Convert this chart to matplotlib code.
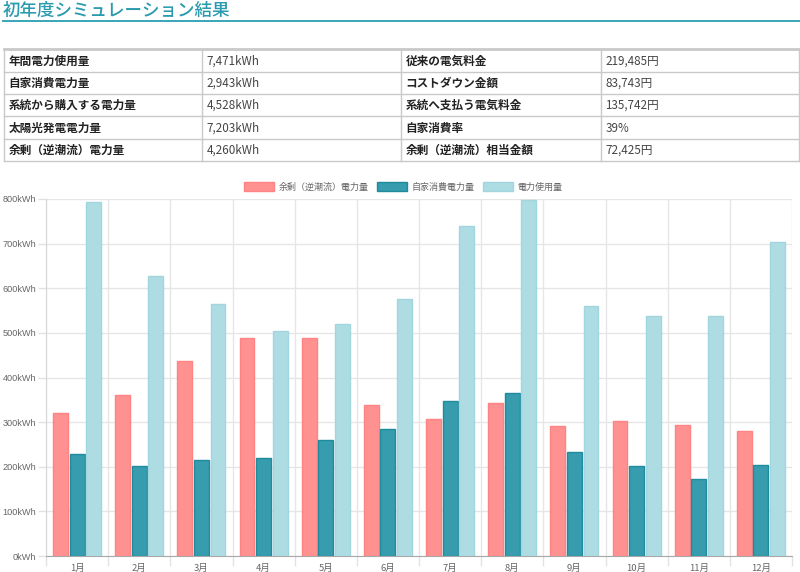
import matplotlib
matplotlib.use("Agg")
import matplotlib.pyplot as plt
from matplotlib.patches import Patch
import numpy as np

plt.rcParams['font.family'] = ['Noto Sans CJK JP', 'DejaVu Sans']

# ---- data ----
title = "初年度シミュレーション結果"
table_left_labels = ["年間電力使用量", "自家消費電力量", "系統から購入する電力量", "太陽光発電電力量", "余剰（逆潮流）電力量"]
table_left_values = ["7,471kWh", "2,943kWh", "4,528kWh", "7,203kWh", "4,260kWh"]
table_right_labels = ["従来の電気料金", "コストダウン金額", "系統へ支払う電気料金", "自家消費率", "余剰（逆潮流）相当金額"]
table_right_values = ["219,485円", "83,743円", "135,742円", "39%", "72,425円"]

months = ["1月", "2月", "3月", "4月", "5月", "6月", "7月", "8月", "9月", "10月", "11月", "12月"]
series_names = ["余剰（逆潮流）電力量", "自家消費電力量", "電力使用量"]
surplus = [320, 360, 437, 488, 489, 338, 307, 342, 292, 303, 294, 280]
self_consumption = [228, 201, 215, 220, 261, 284, 347, 365, 233, 202, 172, 205]
usage = [793, 628, 564, 505, 519, 575, 740, 798, 560, 538, 537, 703]
y_ticks = [0, 100, 200, 300, 400, 500, 600, 700, 800]

fill_colors = ["#FF9191", "#369CAE", "#AEDCE3"]
edge_colors = ["#FF8383", "#1E8C9E", "#A2D6DE"]

W, H = 800, 572
fig = plt.figure(figsize=(W / 100, H / 100), dpi=100)

def fx(x):
    return x / W

def fy(y):
    return 1 - y / H

# ---- title ----
fig.text(fx(3), fy(11), title, fontsize=12.6, fontweight="medium", color="#2A9AAE", va="center", ha="left")
fig.add_artist(plt.Line2D([fx(3), fx(800)], [fy(20.5), fy(20.5)], color="#38A7B7", lw=1.4))

# ---- table ----
row_edges = [49, 72, 94, 116, 139, 161]
col_edges = [4, 202, 401, 601, 799]
grid_c = "#C9C9C9"
for i, y in enumerate(row_edges):
    fig.add_artist(plt.Line2D([fx(col_edges[0]), fx(col_edges[-1])], [fy(y), fy(y)],
                              color=grid_c, lw=2.0 if i == 0 else 1.0))
for x in col_edges:
    fig.add_artist(plt.Line2D([fx(x), fx(x)], [fy(row_edges[0]), fy(row_edges[-1])], color=grid_c, lw=1.0))

cols = [table_left_labels, table_left_values, table_right_labels, table_right_values]
for c, texts in enumerate(cols):
    for r, t in enumerate(texts):
        yc = (row_edges[r] + row_edges[r + 1]) / 2 + 0.5
        fig.text(fx(col_edges[c] + 4.5), fy(yc), t, fontsize=8.4,
                 fontweight="bold" if c % 2 == 0 else "normal",
                 color="#222222" if c % 2 == 0 else "#444444", va="center", ha="left")

# ---- chart ----
ax_l, ax_r, ax_t, ax_b = 46, 792, 199, 556
ax = fig.add_axes([fx(ax_l), fy(ax_b), (ax_r - ax_l) / W, (ax_b - ax_t) / H])
x = np.arange(len(months))
slot = 0.8 / 3
bw = slot * 0.9
for k, vals in enumerate([surplus, self_consumption, usage]):
    ax.bar(x + (k - 1) * slot, vals, width=bw, color=fill_colors[k], edgecolor=edge_colors[k],
           linewidth=1.0, label=series_names[k], zorder=3)

ax.set_xlim(-0.5, len(months) - 0.5)
ax.set_ylim(0, 800)
ax.set_yticks(y_ticks)
ax.set_yticklabels([f"{v}kWh" for v in y_ticks], family=["Liberation Sans", "Noto Sans CJK JP"])
ax.set_xticks(x)
ax.set_xticklabels(months)
ax.set_xticks(np.arange(-0.5, len(months)), minor=True)
ax.tick_params(axis="x", which="major", length=0, pad=6, labelsize=6.8, labelcolor="#666666")
ax.tick_params(axis="x", which="minor", length=7, color="#E2E2E2", width=1)
ax.tick_params(axis="y", length=6, color="#E2E2E2", width=1, pad=1, labelsize=6.6, labelcolor="#666666")
ax.grid(True, axis="y", color="#E6E6E6", lw=1, zorder=0)
ax.grid(True, axis="x", which="minor", color="#E6E6E6", lw=1, zorder=0)
for s in ["top", "right"]:
    ax.spines[s].set_visible(False)
ax.spines["left"].set_color("#D6D6D6")
ax.spines["bottom"].set_color("#A8A8A8")

handles = [Patch(facecolor=fill_colors[k], edgecolor=edge_colors[k], linewidth=1.0) for k in range(3)]
fig.legend(handles, series_names, loc="center", bbox_to_anchor=(fx(403), fy(187)), ncol=3,
           frameon=False, fontsize=6.5, handlelength=3.4, handleheight=1.1, handletextpad=0.45,
           columnspacing=0.9, labelcolor="#666666", borderpad=0, borderaxespad=0)

fig.savefig("out.png", dpi=100)
